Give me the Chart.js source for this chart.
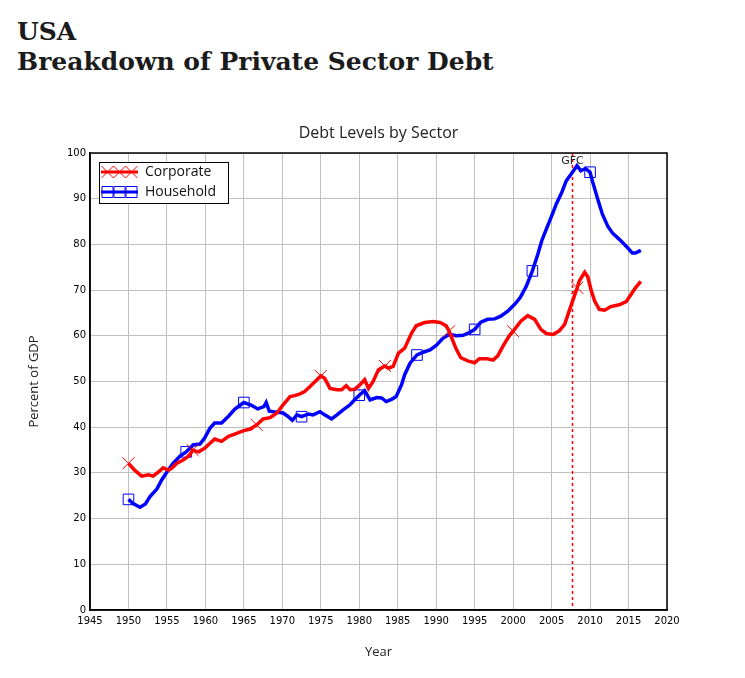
<!DOCTYPE html>
<html>
<head>
<meta charset="utf-8">
<title>USA Private Sector Debt</title>
<script src="https://cdn.jsdelivr.net/npm/chart.js@4.4.0/dist/chart.umd.min.js"></script>
<style>
  html, body { margin: 0; padding: 0; background: #fff; }
  #wrap { position: relative; width: 745px; height: 678px; }
  h1 {
    position: absolute; left: 17px; top: 17px; margin: 0;
    font: bold 25px/30px 'DejaVu Serif', serif; color: #1b1b1b;
  }
  canvas { position: absolute; left: 0; top: 0; }
</style>
</head>
<body>
<div id="wrap">
  <h1>USA<br>Breakdown of Private Sector Debt</h1>
  <canvas id="debtChart" width="745" height="678" style="width:745px;height:678px"></canvas>
</div>

<script>
// ── Data (percent of GDP) ──
const corpYears = [
  1950, 1950.8, 1951.7, 1952.6, 1953.2, 1953.9, 1954.5, 1955.2, 1955.6, 1956.3,
  1957.1, 1958.0, 1958.33, 1959.1, 1959.9, 1960.6, 1961.2, 1962.1, 1963.0, 1963.8,
  1964.9, 1965.8, 1966.67, 1967.5, 1968.4, 1969.3, 1970.1, 1971.0, 1971.6, 1972.3,
  1972.9, 1973.6, 1974.5, 1975, 1975.5, 1976.2, 1977.1, 1977.7, 1978.3, 1978.8,
  1979.4, 1980.1, 1980.7, 1981.2, 1981.8, 1982.5, 1983.33, 1983.8, 1984.4, 1985.1,
  1985.9, 1986.8, 1987.4, 1988.5, 1989.6, 1990.5, 1991.3, 1991.67, 1992.6, 1993.2,
  1994.1, 1995.0, 1995.6, 1996.5, 1997.4, 1998.0, 1998.7, 1999.5, 2000, 2001.0,
  2001.9, 2002.8, 2003.6, 2004.3, 2005.2, 2006.0, 2006.7, 2007.3, 2008.33, 2008.6,
  2009.3, 2009.7, 2010.2, 2010.6, 2011.2, 2011.9, 2012.7, 2013.8, 2014.7, 2015.3,
  2015.9, 2016.6
];
const corpValues = [
  32.1, 30.6, 29.3, 29.6, 29.3, 30.2, 31.1, 30.6, 31.0, 32.1,
  32.8, 33.9, 35.0, 34.6, 35.4, 36.5, 37.4, 36.9, 38.0, 38.5,
  39.2, 39.6, 40.5, 41.8, 42.1, 43.1, 44.9, 46.7, 46.9, 47.3,
  47.8, 48.9, 50.4, 51.2, 50.7, 48.5, 48.2, 48.2, 49.1, 48.2,
  48.3, 49.3, 50.4, 48.5, 50.0, 52.6, 53.4, 52.9, 53.3, 56.2,
  57.3, 60.6, 62.2, 62.9, 63.1, 62.9, 62.2, 61.0, 57.1, 55.2,
  54.5, 54.1, 55.0, 55.0, 54.7, 55.6, 57.8, 60.0, 61.0, 63.2,
  64.4, 63.6, 61.4, 60.5, 60.3, 61.1, 62.5, 65.5, 70.5, 72.0,
  73.9, 72.9, 69.6, 67.6, 65.8, 65.6, 66.4, 66.8, 67.5, 69.0,
  70.5, 71.9
];
const houseYears = [
  1950, 1950.6, 1951.5, 1952.2, 1952.8, 1953.7, 1954.3, 1955.0, 1955.8, 1956.7,
  1957.5, 1958.4, 1959.3, 1959.9, 1960.6, 1961.2, 1962.1, 1963.0, 1963.8, 1964.5,
  1965, 1966.0, 1966.8, 1967.6, 1967.9, 1968.3, 1969.2, 1970.1, 1970.7, 1971.3,
  1971.9, 1972.5, 1973.4, 1974.0, 1974.9, 1975.5, 1976.4, 1977.1, 1977.9, 1978.8,
  1979.4, 1980, 1980.7, 1981.4, 1982.3, 1982.9, 1983.5, 1984.2, 1984.8, 1985.5,
  1985.9, 1986.6, 1987.5, 1988.3, 1989.2, 1990.0, 1990.9, 1991.7, 1992.6, 1993.5,
  1994.3, 1995, 1995.8, 1996.7, 1997.6, 1998.4, 1999.3, 2000.2, 2000.9, 2001.7,
  2002.5, 2003.2, 2003.7, 2004.3, 2005.0, 2005.6, 2006.3, 2006.9, 2007.5, 2008.3,
  2008.8, 2009.4, 2010, 2010.3, 2011.0, 2011.6, 2012.3, 2012.9, 2013.8, 2014.7,
  2015.5, 2015.9, 2016.6
];
const houseValues = [
  24.2, 23.3, 22.5, 23.2, 24.8, 26.5, 28.4, 30.2, 32.1, 33.7,
  34.6, 36.1, 36.3, 37.6, 39.8, 40.9, 40.9, 42.4, 43.9, 44.8,
  45.4, 44.8, 44.0, 44.5, 45.4, 43.5, 43.3, 43.1, 42.4, 41.5,
  42.7, 42.3, 42.9, 42.7, 43.4, 42.7, 41.8, 42.7, 43.8, 44.9,
  46.0, 47.0, 48.0, 46.0, 46.5, 46.4, 45.6, 46.1, 46.7, 49.3,
  51.5, 54.0, 55.8, 56.4, 56.9, 57.9, 59.5, 60.3, 60.0, 60.1,
  60.7, 61.4, 63.0, 63.6, 63.7, 64.3, 65.4, 66.9, 68.3, 70.8,
  74.2, 77.8, 80.7, 83.3, 86.2, 88.8, 91.3, 93.9, 95.3, 97.2,
  96.1, 96.6, 95.8, 93.9, 89.9, 86.6, 84.0, 82.5, 81.1, 79.6,
  78.1, 78.1, 78.7
];

// marker positions along each line
const corpMarkerYears = [1950, 1958.33, 1966.67, 1975, 1983.33, 1991.67, 2000, 2008.33];
const houseMarkerYears = [1950, 1957.5, 1965, 1972.5, 1980, 1987.5, 1995, 2002.5, 2010];

// GFC reference line
const gfcYear = 2007.6;
const gfcLabel = 'GFC';
const chartTitle = 'Debt Levels by Sector';

// ── Colours ──
const RED = '#ff0000';
const BLUE = '#0000ff';

function toPoints(xs, ys) {
  return xs.map((x, i) => ({ x: x, y: ys[i] }));
}

function markerRadius(years, marks, r) {
  return ctx => marks.includes(years[ctx.dataIndex]) ? r : 0;
}

// ── Plot frame + title centred over the plot area ──
const framePlugin = {
  id: 'frame',
  afterDraw(chart) {
    const { ctx, chartArea: a } = chart;
    ctx.save();
    ctx.strokeStyle = '#000';
    ctx.lineWidth = 1.5;
    ctx.strokeRect(a.left, a.top, a.right - a.left, a.bottom - a.top);
    ctx.fillStyle = '#222';
    ctx.font = '16px "Open Sans", sans-serif';
    ctx.textAlign = 'center';
    ctx.textBaseline = 'middle';
    ctx.fillText(chartTitle, (a.left + a.right) / 2, a.top - 20);
    ctx.restore();
  }
};

// ── GFC dashed marker ──
const gfcPlugin = {
  id: 'gfc',
  beforeDatasetsDraw(chart) {
    const { ctx, chartArea: a, scales } = chart;
    const x = Math.round(scales.x.getPixelForValue(gfcYear)) + 0.5;
    ctx.save();
    ctx.strokeStyle = RED;
    ctx.lineWidth = 1.5;
    ctx.setLineDash([3, 3]);
    ctx.beginPath();
    ctx.moveTo(x, a.top);
    ctx.lineTo(x, a.bottom);
    ctx.stroke();
    ctx.setLineDash([]);
    ctx.fillStyle = '#222';
    ctx.font = '11px "DejaVu Sans", sans-serif';
    ctx.textAlign = 'center';
    ctx.textBaseline = 'middle';
    ctx.fillText(gfcLabel, x, a.top + 8);
    ctx.restore();
  }
};

// ── Legend box with line + marker swatches ──
const legendPlugin = {
  id: 'boxLegend',
  afterDraw(chart) {
    const { ctx, chartArea: a } = chart;
    const bx = a.left + 9, by = a.top + 9, bw = 129, bh = 41;
    ctx.save();
    ctx.fillStyle = '#fff';
    ctx.fillRect(bx, by, bw, bh);
    ctx.strokeStyle = '#000';
    ctx.lineWidth = 1;
    ctx.strokeRect(bx + 0.5, by + 0.5, bw, bh);

    const rows = [
      { label: 'Corporate', color: RED, style: 'x', y: by + 10 },
      { label: 'Household', color: BLUE, style: 'sq', y: by + 30 }
    ];
    rows.forEach(r => {
      ctx.strokeStyle = r.color;
      ctx.lineWidth = 3;
      ctx.beginPath();
      ctx.moveTo(bx + 2, r.y);
      ctx.lineTo(bx + 39, r.y);
      ctx.stroke();
      ctx.lineWidth = 1;
      [bx + 8.5, bx + 20.5, bx + 32.5].forEach(cx => {
        ctx.beginPath();
        if (r.style === 'x') {
          ctx.moveTo(cx - 6, r.y - 6); ctx.lineTo(cx + 6, r.y + 6);
          ctx.moveTo(cx + 6, r.y - 6); ctx.lineTo(cx - 6, r.y + 6);
        } else {
          ctx.rect(cx - 5.5, r.y - 5.5, 11, 11);
        }
        ctx.stroke();
      });
      ctx.fillStyle = '#111';
      ctx.font = '14px "Open Sans", sans-serif';
      ctx.textAlign = 'left';
      ctx.textBaseline = 'middle';
      ctx.fillText(r.label, bx + 46, r.y);
    });
    ctx.restore();
  }
};

new Chart(document.getElementById('debtChart'), {
  type: 'line',
  data: {
    datasets: [
      {
        label: 'Corporate',
        data: toPoints(corpYears, corpValues),
        borderColor: RED, borderWidth: 3.5, tension: 0,
        pointStyle: 'crossRot',
        pointRadius: markerRadius(corpYears, corpMarkerYears, 8.5),
        pointBorderColor: RED, pointBorderWidth: 1, pointBackgroundColor: 'transparent'
      },
      {
        label: 'Household',
        data: toPoints(houseYears, houseValues),
        borderColor: BLUE, borderWidth: 3.5, tension: 0,
        pointStyle: 'rect',
        pointRadius: markerRadius(houseYears, houseMarkerYears, 7.5),
        pointBorderColor: BLUE, pointBorderWidth: 1, pointBackgroundColor: 'transparent'
      }
    ]
  },
  options: {
    responsive: false, animation: false, events: [],
    layout: { padding: { left: 26, right: 78, top: 153, bottom: 18 } },
    plugins: {
      legend: { display: false },
      tooltip: { enabled: false },
      title: { display: false }
    },
    scales: {
      x: {
        type: 'linear', min: 1945, max: 2020,
        afterFit: s => { s.height = 50; },
        ticks: {
          stepSize: 5, autoSkip: false, maxRotation: 0, padding: 5, color: '#000',
          font: { family: 'DejaVu Sans', size: 10 },
          callback: v => String(v)
        },
        grid: { color: '#c0c0c0', lineWidth: 1, drawTicks: false },
        border: { color: '#000', width: 1.5 },
        title: {
          display: true, text: 'Year', color: '#222',
          font: { family: 'Open Sans', size: 13 }, padding: { top: 8, bottom: 0 }
        }
      },
      y: {
        min: 0, max: 100,
        afterFit: s => { s.width = 64; },
        ticks: {
          stepSize: 10, padding: 4, color: '#000',
          font: { family: 'DejaVu Sans', size: 10 }
        },
        grid: { color: '#c0c0c0', lineWidth: 1, drawTicks: false },
        border: { color: '#000', width: 1.5 },
        title: {
          display: true, text: 'Percent of GDP', color: '#222',
          font: { family: 'Open Sans', size: 13 }, padding: { top: 0, bottom: 0 }
        }
      }
    }
  },
  plugins: [gfcPlugin, framePlugin, legendPlugin]
});
</script>
</body>
</html>
